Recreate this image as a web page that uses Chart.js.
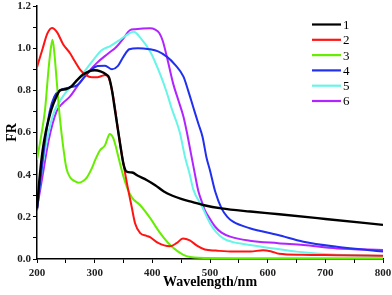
<!DOCTYPE html>
<html>
<head>
<meta charset="utf-8">
<script src="https://cdn.jsdelivr.net/npm/chart.js@4"></script>
<style>
  html, body { margin: 0; padding: 0; background: #fff; }
  #wrap { width: 392px; height: 295px; }
</style>
</head>
<body>
<div id="wrap"><canvas id="myChart" width="392" height="295"></canvas></div>
<script>
// series labels + colours
var seriesNames = ["1", "2", "3", "4", "5", "6"];
var seriesColors = ["#000000", "#ff1414", "#66ee00", "#2030ee", "#66f5e8", "#b025ff"];

// x / y values (wavelength nm, FR)
var wl1 = [200, 205, 210, 215, 220, 225, 232, 240, 250, 260, 270, 280, 290, 300, 310, 320, 325, 330, 335, 340, 345, 350, 355, 365, 375, 390, 405, 420, 435, 450, 470, 490, 520, 570, 620, 700, 800];
var fr1 = [0.24, 0.40, 0.52, 0.60, 0.66, 0.71, 0.76, 0.80, 0.805, 0.82, 0.85, 0.875, 0.89, 0.895, 0.89, 0.875, 0.86, 0.80, 0.71, 0.62, 0.53, 0.45, 0.415, 0.41, 0.395, 0.375, 0.35, 0.32, 0.30, 0.285, 0.27, 0.255, 0.24, 0.225, 0.212, 0.19, 0.162];

var wl2 = [200, 210, 218, 226, 235, 245, 257, 265, 275, 285, 295, 305, 312, 318, 324, 330, 335, 340, 345, 350, 358, 364, 370, 379, 390, 396, 410, 430, 442, 453, 465, 478, 491, 510, 540, 570, 592, 605, 620, 660, 720, 800];
var fr2 = [0.91, 1.00, 1.07, 1.096, 1.075, 1.02, 0.977, 0.94, 0.897, 0.872, 0.862, 0.862, 0.868, 0.873, 0.862, 0.80, 0.72, 0.62, 0.53, 0.45, 0.33, 0.25, 0.17, 0.123, 0.11, 0.104, 0.076, 0.06, 0.075, 0.097, 0.088, 0.062, 0.045, 0.04, 0.035, 0.035, 0.042, 0.037, 0.025, 0.02, 0.018, 0.015];

var wl3 = [200, 207, 214, 220, 224, 227, 230, 234, 237, 240, 246, 251, 258, 265, 272, 280, 286, 295, 301, 309, 318, 322, 326, 332, 337, 341, 346, 350, 356, 365, 379, 396, 413, 431, 454, 480, 550, 650, 800];
var fr3 = [0.47, 0.58, 0.71, 0.90, 1.00, 1.04, 0.98, 0.85, 0.75, 0.66, 0.52, 0.43, 0.385, 0.37, 0.362, 0.37, 0.385, 0.43, 0.47, 0.515, 0.54, 0.57, 0.593, 0.575, 0.53, 0.485, 0.43, 0.39, 0.34, 0.29, 0.255, 0.195, 0.125, 0.066, 0.02, 0.006, 0.004, 0.003, 0.003];

var wl4 = [200, 205, 210, 215, 222, 230, 240, 255, 270, 283, 295, 305, 318, 330, 340, 350, 360, 375, 395, 410, 425, 440, 454, 462, 471, 480, 487, 494, 500, 509, 520, 530, 540, 569, 618, 662, 720, 800];
var fr4 = [0.23, 0.35, 0.47, 0.58, 0.70, 0.77, 0.80, 0.813, 0.825, 0.865, 0.90, 0.915, 0.917, 0.90, 0.915, 0.96, 0.995, 1.0, 0.995, 0.985, 0.96, 0.92, 0.865, 0.80, 0.72, 0.64, 0.58, 0.48, 0.42, 0.32, 0.24, 0.20, 0.177, 0.146, 0.114, 0.082, 0.058, 0.035];

var wl5 = [200, 210, 220, 230, 240, 250, 260, 275, 295, 312, 327, 344, 360, 368, 379, 396, 413, 425, 434, 442, 448, 457, 465, 471, 486, 500, 510, 523, 540, 558, 610, 650, 720, 800];
var fr5 = [0.25, 0.45, 0.60, 0.70, 0.75, 0.79, 0.82, 0.865, 0.935, 0.99, 1.01, 1.04, 1.07, 1.078, 1.05, 0.985, 0.88, 0.79, 0.71, 0.65, 0.596, 0.48, 0.40, 0.33, 0.25, 0.17, 0.13, 0.098, 0.08, 0.071, 0.05, 0.035, 0.02, 0.014];

var wl6 = [200, 210, 220, 234, 245, 257, 270, 280, 303, 324, 338, 350, 361, 370, 396, 405, 412, 418, 426, 436, 445, 454, 460, 467, 474, 480, 486, 491, 500, 509, 520, 535, 569, 618, 662, 720, 800];
var fr6 = [0.24, 0.40, 0.56, 0.70, 0.74, 0.77, 0.82, 0.857, 0.928, 0.976, 1.007, 1.047, 1.085, 1.09, 1.094, 1.088, 1.072, 1.035, 0.95, 0.833, 0.754, 0.675, 0.60, 0.50, 0.40, 0.32, 0.27, 0.232, 0.19, 0.153, 0.125, 0.106, 0.087, 0.075, 0.066, 0.05, 0.043];

var xValues = [wl1, wl2, wl3, wl4, wl5, wl6];
var yValues = [fr1, fr2, fr3, fr4, fr5, fr6];

// axis ticks
var xMin = 200, xMax = 800, xStep = 50;
var yMin = 0, yMax = 1.2, yStep = 0.1;

function toPoints(xs, ys) {
  var pts = [];
  for (var i = 0; i < xs.length; i++) pts.push({ x: xs[i], y: ys[i] });
  return pts;
}

var datasets = seriesNames.map(function (name, i) {
  return {
    label: name,
    data: toPoints(xValues[i], yValues[i]),
    borderColor: seriesColors[i],
    backgroundColor: seriesColors[i],
    borderWidth: i === 0 ? 2.4 : 2,
    pointRadius: 0,
    cubicInterpolationMode: "monotone",
    fill: false
  };
});

// legend drawn at a fixed spot inside the plot (top right)
var sideLegend = {
  id: "sideLegend",
  afterDraw: function (chart) {
    var c = chart.ctx;
    c.save();
    c.font = "13px 'Liberation Serif', 'Times New Roman', serif";
    c.textBaseline = "middle";
    c.textAlign = "left";
    chart.data.datasets.forEach(function (ds, i) {
      var y = 24.5 + i * 15.3;
      c.strokeStyle = ds.borderColor;
      c.lineWidth = 2.2;
      c.beginPath();
      c.moveTo(312, y);
      c.lineTo(341, y);
      c.stroke();
      c.fillStyle = "#000";
      c.fillText(ds.label, 343, y + 1);
    });
    c.restore();
  }
};

var tickFont = { family: "'Liberation Serif', 'Times New Roman', serif", size: 11, weight: "bold" };
var titleFont = { family: "'Liberation Serif', 'Times New Roman', serif", size: 14, weight: "bold" };

var ctx = document.getElementById("myChart");
var chart = new Chart(ctx, {
  type: "line",
  data: { datasets: datasets },
  options: {
    responsive: false,
    animation: false,
    layout: { padding: { top: 6, right: 9, left: 0, bottom: 0 } },
    plugins: {
      legend: { display: false },
      tooltip: { enabled: false }
    },
    scales: {
      x: {
        type: "linear",
        min: xMin,
        max: xMax,
        afterFit: function (s) { s.height = 36; s.paddingLeft = 0; s.paddingRight = 0; },
        border: { display: true, color: "#000", width: 1.5 },
        grid: { drawOnChartArea: false, drawTicks: true, tickLength: 4, color: "#000", tickWidth: 1 },
        ticks: {
          stepSize: xStep,
          autoSkip: false,
          maxRotation: 0,
          padding: 4,
          color: "#222",
          font: tickFont,
          callback: function (v) { return v % 100 === 0 ? String(v) : ""; }
        },
        title: { display: true, text: "Wavelength/nm", color: "#000", font: titleFont, padding: { top: 0, bottom: 4 } }
      },
      y: {
        min: yMin,
        max: yMax,
        afterFit: function (s) { s.width = 37; s.paddingTop = 0; s.paddingBottom = 0; },
        border: { display: true, color: "#000", width: 1.5 },
        grid: { drawOnChartArea: false, drawTicks: true, tickLength: 4, color: "#000", tickWidth: 1 },
        ticks: {
          stepSize: yStep,
          autoSkip: false,
          padding: 2,
          color: "#222",
          font: tickFont,
          callback: function (v) {
            var k = Math.round(v * 10);
            return k % 2 === 0 ? (k / 10).toFixed(1) : "";
          }
        },
        title: { display: true, text: "FR", color: "#000", font: titleFont, padding: { top: 4, bottom: 0 } }
      }
    }
  },
  plugins: [sideLegend]
});
</script>
</body>
</html>
